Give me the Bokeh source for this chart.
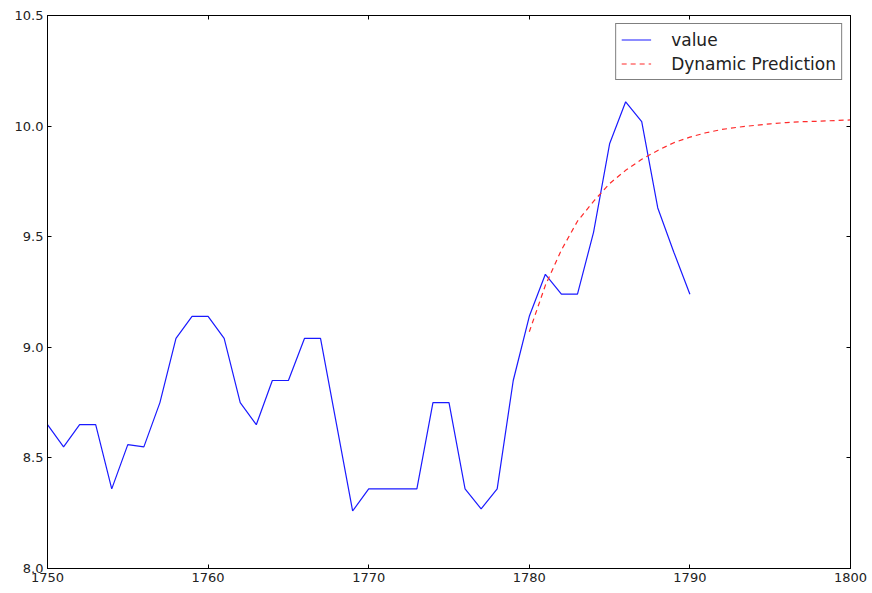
from bokeh.plotting import figure
from bokeh.models import LinearAxis, FixedTicker, NumeralTickFormatter, Range1d, Legend, LegendItem
from bokeh.embed import file_html
from bokeh.resources import INLINE

years = list(range(1750, 1791))
value = [8.65, 8.55, 8.65, 8.65, 8.36, 8.56, 8.55, 8.75, 9.04, 9.14,
         9.14, 9.04, 8.75, 8.65, 8.85, 8.85, 9.04, 9.04, 8.65, 8.26,
         8.36, 8.36, 8.36, 8.36, 8.75, 8.75, 8.36, 8.27, 8.36, 8.85,
         9.14, 9.33, 9.24, 9.24, 9.52, 9.92, 10.11, 10.02, 9.63, 9.43,
         9.24]
pred_years = list(range(1780, 1801))
pred = [9.07, 9.28, 9.44, 9.57, 9.66, 9.74, 9.80, 9.85, 9.89, 9.925,
        9.95, 9.97, 9.985, 9.995, 10.003, 10.01, 10.016, 10.02, 10.022, 10.025,
        10.028]
x_ticks = [1750, 1760, 1770, 1780, 1790, 1800]
y_ticks = [8.0, 8.5, 9.0, 9.5, 10.0, 10.5]

p = figure(width=872, height=593, output_backend="svg", toolbar_location=None,
           x_range=Range1d(1750, 1800), y_range=Range1d(8.0, 10.5),
           min_border_left=47, min_border_right=22, min_border_top=15, min_border_bottom=25,
           x_axis_location=None, y_axis_location=None)
p.grid.visible = False
p.outline_line_color = "black"
p.outline_line_width = 1
p.background_fill_color = "white"
p.border_fill_color = "white"

font = "DejaVu Sans"

def mk_axis(cls_ticks, fmt, show_labels):
    ax = LinearAxis(ticker=FixedTicker(ticks=cls_ticks), formatter=NumeralTickFormatter(format=fmt))
    ax.major_tick_in = 4
    ax.major_tick_out = 0
    ax.minor_tick_in = 0
    ax.minor_tick_out = 0
    ax.axis_line_color = "black"
    ax.major_tick_line_color = "black"
    ax.major_label_text_font = font
    ax.major_label_text_font_size = "13px" if show_labels else "0px"
    ax.major_label_text_color = "#222222" if show_labels else None
    ax.major_label_standoff = 4
    return ax

p.add_layout(mk_axis(x_ticks, "0", True), "below")
p.add_layout(mk_axis(y_ticks, "0.0", True), "left")
p.add_layout(mk_axis(x_ticks, "0", False), "above")
p.add_layout(mk_axis(y_ticks, "0.0", False), "right")

r1 = p.line(years, value, line_color="#1a1aff", line_width=1.2)
r2 = p.line(pred_years, pred, line_color="#ff2a2a", line_width=1.2, line_dash="5 4")

legend = Legend(items=[LegendItem(label="value", renderers=[r1]),
                       LegendItem(label="Dynamic Prediction", renderers=[r2])],
                location="top_right")
legend.label_text_font = font
legend.label_text_font_size = "17px"
legend.label_text_color = "#222222"
legend.border_line_color = "black"
legend.border_line_width = 1
legend.margin = 8
legend.padding = 5
legend.spacing = 3
legend.glyph_width = 30
legend.label_standoff = 20
legend.label_height = 21
legend.glyph_height = 21
p.add_layout(legend, "center")

open("out.html", "w").write(file_html(p, INLINE))
